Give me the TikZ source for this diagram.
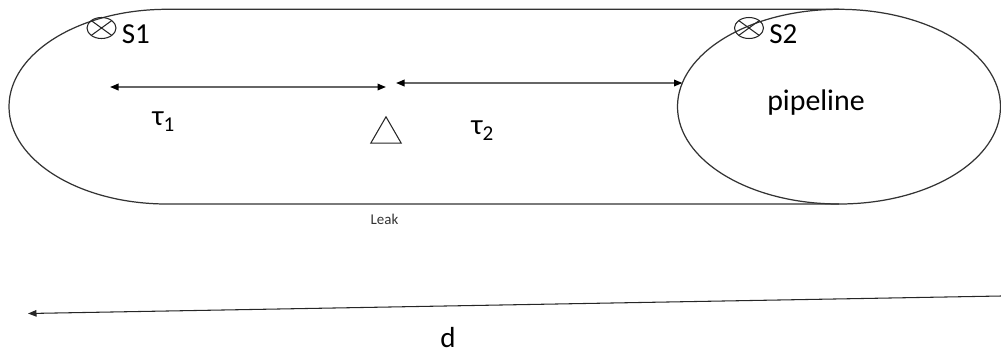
\documentclass[tikz,border=0pt]{standalone}
\usepackage{fontspec}
\setmainfont{Carlito}
\usepackage{tikz}
\usetikzlibrary{shapes.geometric, arrows.meta, positioning, calc}

\newcommand{\tsub}[1]{\raisebox{-0.45ex}{\fontsize{12}{14}\selectfont #1}}

\begin{document}
\begin{tikzpicture}[
  outline/.style={draw=black!80, line width=0.7pt},
  sensor/.style={ellipse, draw=black!85, line width=0.6pt, inner sep=0, minimum width=0.58cm, minimum height=0.42cm,
    path picture={\draw[black!85, line width=0.6pt] (path picture bounding box.north west) -- (path picture bounding box.south east)
      (path picture bounding box.north east) -- (path picture bounding box.south west);}},
  lbl/.style={inner sep=0, font=\fontsize{16.5}{19}\selectfont},
  dim/.style={{Triangle[length=1.7mm,width=1.3mm,color=black]}-{Triangle[length=1.7mm,width=1.3mm,color=black]}, draw=black!60, line width=1pt},
  span/.style={-{Triangle[length=1.7mm,width=1.3mm]}, draw=black!85, line width=0.6pt}
]
\useasboundingbox (0,0) rectangle (20.02,-7.12);

\draw[outline] (16.78,-0.186) -- (3.34,-0.186)
  arc[start angle=90, end angle=270, x radius=3.16, y radius=1.947] -- (16.78,-4.08);
\node[ellipse, outline, minimum width=6.46cm, minimum height=3.894cm, inner sep=0] (pipe) at (16.78,-2.133) {};
\node[lbl, font=\fontsize{17}{20}\selectfont] (pipetxt) at (16.32,-2.06) {pipeline};

\node[sensor] (s1) at (2.03,-0.56) {};
\node[lbl, right=0.1cm of s1, yshift=-0.12cm] (s1txt) {S1};
\node[sensor] (s2) at (14.98,-0.56) {};
\node[lbl, right=0.1cm of s2, yshift=-0.12cm] (s2txt) {S2};

\node[regular polygon, regular polygon sides=3, draw=black!85, line width=0.6pt, inner sep=0, minimum size=0.7cm] (leak) at (7.72,-2.686) {};
\node[inner sep=0, font=\fontsize{8.5}{10}\selectfont, text=black!80] (leaktxt) at (7.69,-4.38) {Leak};

\coordinate (t1a) at (2.2,-1.74);
\coordinate (t1b) at (7.72,-1.74);
\coordinate (t2a) at (7.92,-1.66);
\coordinate (t2b) at (13.65,-1.66);
\draw[dim] (t1a) -- (t1b);
\draw[dim] (t2a) -- (t2b);
\node[lbl, anchor=base west] (tau1) at (3.04,-2.5) {τ\tsub{1}};
\node[lbl, anchor=base west] (tau2) at (9.42,-2.68) {τ\tsub{2}};

\coordinate (dR) at (20.02,-5.92);
\coordinate (dL) at (0.56,-6.27);
\draw[span] (dR) -- (dL);
\node[lbl] (dtxt) at (8.96,-6.76) {d};

\end{tikzpicture}
\end{document}
